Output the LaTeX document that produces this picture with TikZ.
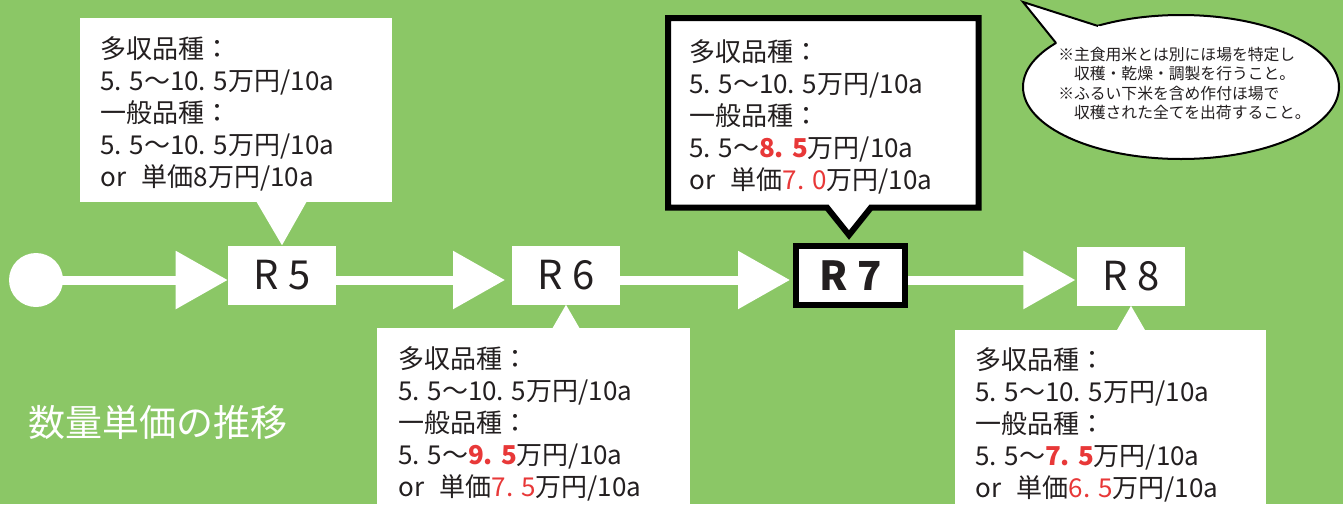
\documentclass[tikz,border=0pt]{standalone}
\usepackage{fontspec}
\setmainfont{Noto Sans CJK JP}
\usetikzlibrary{arrows.meta,calc,shapes.geometric}
\definecolor{bg}{RGB}{139,199,102}
\definecolor{ink}{RGB}{35,31,32}
\definecolor{accent}{RGB}{232,56,56}
\newcommand\boldred[1]{{\color{accent}\bfseries #1}}
\newcommand\plainred[1]{{\color{accent}#1}}
\newcommand\orgap{\hspace{0.6em}}
\begin{document}
\begin{tikzpicture}[x=0.75pt,y=-0.75pt,
  yearbox/.style={fill=white, inner sep=0, minimum width=81pt, minimum height=44.25pt,
    text=ink, font=\fontsize{30}{30}\selectfont},
  flow/.style={white, line width=6.75pt, -{Triangle[length=39pt,width=42pt]}},
  calloutbox/.style={fill=white, inner sep=0, anchor=north west},
  ctext/.style={anchor=north west, inner sep=0, align=left, text=ink,
    font=\fontsize{19.5}{24}\selectfont},
  pointer/.style={fill=white}
]
\fill[bg] (0,0) rectangle (1343,504);
\useasboundingbox (0,0) rectangle (1343,504);

% year boxes
\node[circle, fill=white, minimum size=40.5pt, inner sep=0] (start) at (36,280) {};
\node[yearbox] (R5) at (282,275) {R 5};
\node[yearbox] (R6) at (566,275) {R 6};
\node[yearbox, draw=black, line width=4.5pt, minimum width=81.75pt, font=\fontsize{30}{30}\selectfont\bfseries] (R7) at (850.5,275.5) {R 7};
\node[yearbox] (R8) at (1131,276) {R 8};

% flow arrows
\draw[flow] (start.center) -- (start -| R5.west);
\draw[flow, shorten >=5pt] (start -| R5.east) -- (start -| R6.west);
\draw[flow, shorten >=2.25pt] (start -| R6.east) -- (start -| R7.west);
\draw[flow, shorten <=-2.25pt, shorten >=1pt] ([xshift=2.25pt]start -| R7.east) -- (start -| R8.west);

% R5 callout
\node[calloutbox, minimum width=234pt, minimum height=138pt] (c5) at (80,18) {};
\fill[pointer] (R5.north) -- ++(-27,-46) -- ++(53,0) -- cycle;
\node[ctext] (t5) at ([shift={(20,18)}]c5.north west)
  {多収品種：\\5. 5～10. 5万円/10a\\一般品種：\\5. 5～10. 5万円/10a\\or\orgap 単価8万円/10a};

% R6 callout
\node[calloutbox, minimum width=234.75pt, minimum height=142.5pt] (c6) at (377,328) {};
\fill[pointer] (R6.south) -- ++(-15,26) -- ++(30,0) -- cycle;
\node[ctext] (t6) at ([shift={(21,18)}]c6.north west)
  {多収品種：\\5. 5～10. 5万円/10a\\一般品種：\\5. 5～\boldred{9. 5}万円/10a\\or\orgap 単価\plainred{7. 5}万円/10a};

% R7 callout (highlighted)
\node[inner sep=0, anchor=north west, minimum width=232.5pt, minimum height=141.75pt] (c7) at (668,18) {};
\coordinate (tip7) at ($(R7.north)+(-1.5,-8)$);
\filldraw[fill=white, draw=black, line width=4.5pt, line join=miter]
  (c7.south west) -- (c7.north west) -- (c7.north east) -- (c7.south east)
  -- ($(tip7 |- c7.south)+(22,0)$) -- (tip7) -- ($(tip7 |- c7.south)+(-22,0)$) -- cycle;
\node[ctext] (t7) at ([shift={(21,21)}]c7.north west)
  {多収品種：\\5. 5～10. 5万円/10a\\一般品種：\\5. 5～\boldred{8. 5}万円/10a\\or\orgap 単価\plainred{7. 0}万円/10a};

% R8 callout
\node[calloutbox, minimum width=233.25pt, minimum height=142.5pt] (c8) at (955,330) {};
\fill[pointer] (R8.south) -- ++(-15,26) -- ++(30,0) -- cycle;
\node[ctext] (t8) at ([shift={(20,17)}]c8.north west)
  {多収品種：\\5. 5～10. 5万円/10a\\一般品種：\\5. 5～\boldred{7. 5}万円/10a\\or\orgap 単価\plainred{6. 5}万円/10a};

% note bubble
\node[ellipse, draw=black, fill=white, line width=1.5pt, minimum width=237pt, minimum height=108pt, inner sep=0] (note) at (1181,87) {};
\coordinate (tailtip) at (1023,2);
\fill[white] (1058,45) -- (tailtip) -- (1102,27) -- cycle;
\draw[line width=1.5pt, line join=miter] (1056,43) -- (tailtip) -- (1098,26);
\node[anchor=north west, inner sep=0, align=left, text=ink, font=\fontsize{11.85}{14.5}\selectfont] (notetext) at (1058,47)
  {※主食用米とは別にほ場を特定し\\　収穫・乾燥・調製を行うこと。\\※ふるい下米を含め作付ほ場で\\　収穫された全てを出荷すること。};

% title
\node[anchor=west, inner sep=0, text=white, font=\fontsize{27.75}{30}\selectfont] (title) at (28,422) {数量単価の推移};
\end{tikzpicture}
\end{document}
